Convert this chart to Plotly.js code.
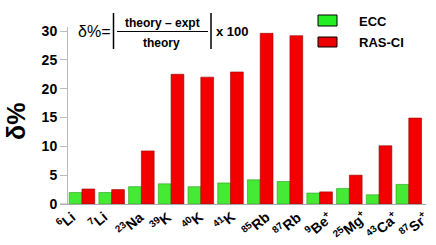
<!DOCTYPE html>
<html>
<head>
<meta charset="utf-8">
<script src="https://cdn.plot.ly/plotly-3.0.1.min.js"></script>
<style>html,body{margin:0;padding:0;background:#fff;}#chart{width:436px;height:245px;}</style>
</head>
<body>
<div id="chart"></div>
<script>
// Data
const categories = ["<sup>6</sup>Li","<sup>7</sup>Li","<sup>23</sup>Na","<sup>39</sup>K","<sup>40</sup>K","<sup>41</sup>K","<sup>85</sup>Rb","<sup>87</sup>Rb","<sup>9</sup>Be<sup>+</sup>","<sup>25</sup>Mg<sup>+</sup>","<sup>43</sup>Ca<sup>+</sup>","<sup>87</sup>Sr<sup>+</sup>"];
const seriesNames = ["ECC", "RAS-CI"];
const eccValues = [2.0, 2.0, 3.0, 3.5, 3.0, 3.65, 4.2, 3.9, 1.9, 2.7, 1.6, 3.4];
const rasValues = [2.6, 2.5, 9.2, 22.5, 22.0, 22.9, 29.6, 29.2, 2.1, 5.0, 10.1, 14.9];
const yTicks = [0, 5, 10, 15, 20, 25, 30];

const W = 436, H = 245, L = 68, R = 10, T = 27, B = 41;
const pw = W - L - R, ph = H - T - B;
const px = x => (x - L) / pw;
const py = y => (H - B - y) / ph;
const FONT = "Liberation Sans, Arial, sans-serif";

const idx = categories.map((_, i) => i);
const traces = [
  {type: "bar", name: seriesNames[0], x: idx, y: eccValues,
   marker: {color: "#44ea33", line: {color: "#2b9a1e", width: 0.6}}},
  {type: "bar", name: seriesNames[1], x: idx, y: rasValues,
   marker: {color: "#f20000", line: {color: "#9a0000", width: 0.6}}}
];

const shapes = [
  {type: "line", xref: "paper", yref: "paper", x0: px(60), x1: px(68), y0: 0, y1: 0, line: {color: "#aaaaaa", width: 1}},
  {type: "rect", xref: "paper", yref: "paper", x0: px(318), x1: px(337), y0: py(26), y1: py(15), fillcolor: "#22ee22", line: {color: "#000", width: 1}},
  {type: "rect", xref: "paper", yref: "paper", x0: px(318), x1: px(337), y0: py(47), y1: py(37), fillcolor: "#ee0000", line: {color: "#000", width: 1}},
  {type: "line", xref: "paper", yref: "paper", x0: px(113.5), x1: px(113.5), y0: py(49), y1: py(13), line: {color: "#000", width: 1.5}},
  {type: "line", xref: "paper", yref: "paper", x0: px(211), x1: px(211), y0: py(49), y1: py(13), line: {color: "#000", width: 1.5}},
  {type: "line", xref: "paper", yref: "paper", x0: px(117), x1: px(208), y0: py(31.5), y1: py(31.5), line: {color: "#000", width: 1.2}}
];

const ann = (x, y, text, size, xanchor, extra) => Object.assign({
  xref: "paper", yref: "paper", x: px(x), y: py(y), text: text, showarrow: false,
  xanchor: xanchor, yanchor: "middle", font: {family: FONT, size: size, color: "#000", weight: "bold"}
}, extra || {});

const annotations = [
  ann(357, 21, seriesNames[0], 13, "left"),
  ann(357, 42, seriesNames[1], 13, "left"),
  ann(112, 32, "δ%=", 16, "right", {font: {family: FONT, size: 16, color: "#000", weight: "normal"}}),
  ann(162.5, 23, "theory – expt", 12, "center"),
  ann(161.5, 43, "theory", 12, "center"),
  ann(214, 32, "x 100", 13, "left"),
  ann(16, 121, "δ%", 25, "center", {textangle: -90})
];

// rotated category labels (label row spaced slightly wider than the bar groups, as in the reference)
categories.forEach((c, i) => {
  annotations.push({
    xref: "paper", yref: "paper", x: px(66 + i * 31.6), y: py(206), text: c, showarrow: false,
    textangle: -40, xanchor: "center", yanchor: "top", borderpad: 0,
    font: {family: FONT, size: 14, color: "#000", weight: "bold"}
  });
});

const layout = {
  width: W, height: H,
  margin: {l: L, r: R, t: T, b: B, pad: 0},
  paper_bgcolor: "#fff", plot_bgcolor: "#fff",
  showlegend: false,
  barmode: "group", bargap: 0.14, bargroupgap: 0,
  font: {family: FONT, color: "#000"},
  xaxis: {
    tickmode: "array", tickvals: idx, showticklabels: false,
    range: [-0.47, 11.58],
    showgrid: false, zeroline: false, showline: true, linecolor: "#aaaaaa", linewidth: 1,
    ticks: "", fixedrange: true
  },
  yaxis: {
    range: [0, 30.7], tickmode: "array", tickvals: yTicks,
    tickfont: {family: FONT, size: 14, color: "#000", weight: "bold"},
    showgrid: false, zeroline: false, showline: true, linecolor: "#bbbbbb", linewidth: 1,
    ticks: "outside", ticklen: 7, tickcolor: "#bbbbbb", fixedrange: true
  },
  shapes: shapes,
  annotations: annotations
};

Plotly.newPlot("chart", traces, layout, {staticPlot: true, displayModeBar: false});
</script>
</body>
</html>
